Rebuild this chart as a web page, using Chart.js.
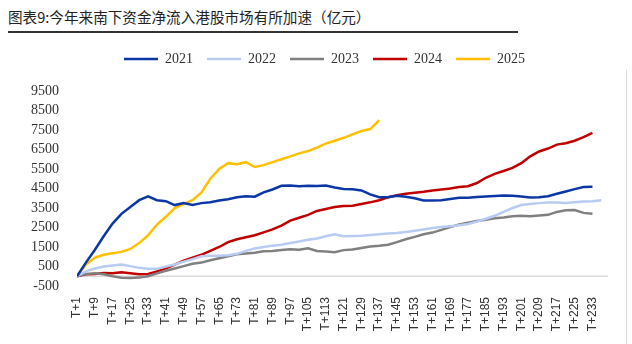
<!DOCTYPE html>
<html>
<head>
<meta charset="utf-8">
<script src="https://cdn.jsdelivr.net/npm/chart.js@4"></script>
<style>
  html, body { margin: 0; padding: 0; background: #fff; }
  #wrap { position: relative; width: 632px; height: 344px; overflow: hidden; }
  #title { position: absolute; left: 8px; top: 6px; font: 14.6px "Noto Sans CJK SC", sans-serif; color: #222; white-space: nowrap; }
  #rule { position: absolute; left: 8px; top: 31px; width: 510px; height: 2px; background: #333; }
  #edge { position: absolute; left: 626px; top: 70px; width: 1px; height: 274px; background: #d9d9d9; }
  canvas { position: absolute; left: 0; top: 0; }
</style>
</head>
<body>
<div id="wrap">
  <div id="title">图表9:今年来南下资金净流入港股市场有所加速（亿元）</div>
  <div id="rule"></div>
  <div id="edge"></div>
  <canvas id="chart" width="632" height="344"></canvas>
</div>
<script>
// trading day index (sampled every 4 days)
const days = [1,5,9,13,17,21,25,29,33,37,41,45,49,53,57,61,65,69,73,77,81,85,89,93,97,101,105,109,113,117,
  121,125,129,133,137,141,145,149,153,157,161,165,169,173,177,181,185,189,193,197,201,205,209,213,217,221,225,229,233,237];

const xTicks = [1,9,17,25,33,41,49,57,65,73,81,89,97,105,113,121,129,137,145,153,161,169,177,185,193,201,209,217,225,233];
const yTicks = [-500,500,1500,2500,3500,4500,5500,6500,7500,8500,9500];

const years = ['2021', '2022', '2023', '2024', '2025'];
const colors = ['#0b37a6', '#b8cbf2', '#808080', '#c00000', '#ffc000'];

const flow2021 = [0,700,1350,2050,2700,3200,3550,3900,4100,3900,3850,3650,3750,3650,3750,3800,3880,3950,4050,4100,
  4080,4300,4450,4640,4650,4620,4640,4630,4650,4550,4480,4460,4400,4200,4050,4050,4130,4080,4000,3890,
  3880,3900,3960,4020,4020,4060,4090,4120,4140,4130,4090,4040,4050,4100,4230,4350,4470,4580,4590];
const flow2022 = [0,250,400,500,550,600,520,430,380,380,500,600,750,880,1020,1050,1050,1080,1150,1300,
  1420,1500,1570,1620,1700,1780,1870,1940,2050,2150,2050,2060,2080,2120,2160,2190,2220,2270,2330,2400,
  2470,2520,2570,2620,2680,2800,2950,3100,3300,3500,3650,3700,3750,3780,3780,3760,3800,3830,3850,3900];
const flow2023 = [0,120,150,100,0,-80,-90,-70,0,150,280,400,520,640,700,820,920,1030,1130,1170,
  1200,1280,1300,1350,1380,1360,1430,1300,1270,1230,1340,1370,1450,1520,1560,1620,1750,1900,2020,2150,
  2240,2380,2520,2650,2750,2830,2900,2970,3010,3080,3100,3080,3110,3150,3300,3380,3400,3250,3200];
const flow2024 = [0,100,120,170,150,200,150,100,120,250,400,600,800,950,1100,1300,1500,1750,1900,2000,
  2100,2250,2400,2600,2850,3000,3150,3350,3450,3550,3600,3620,3700,3790,3900,4050,4150,4230,4280,4330,
  4400,4450,4500,4580,4620,4780,5050,5250,5400,5560,5800,6150,6400,6550,6750,6820,6950,7130,7350];
const flow2025 = [0,600,950,1100,1180,1250,1400,1700,2100,2650,3050,3500,3700,3900,4300,5000,5500,5800,5750,5850,
  5600,5700,5850,6000,6150,6300,6420,6600,6800,6950,7100,7280,7450,7550,8000];

const allFlows = [flow2021, flow2022, flow2023, flow2024, flow2025];

// grey line at the zero level
const zeroLine = {
  id: 'zeroLine',
  beforeDatasetsDraw(chart) {
    const { ctx, chartArea, scales } = chart;
    const y = scales.y.getPixelForValue(0);
    ctx.save();
    ctx.strokeStyle = '#d9d9d9';
    ctx.lineWidth = 1.5;
    ctx.beginPath();
    ctx.moveTo(chartArea.left, y);
    ctx.lineTo(chartArea.right, y);
    ctx.stroke();
    ctx.restore();
  }
};

// extra room under the legend, and nudge it right a little
const legendGap = {
  id: 'legendGap',
  beforeInit(chart) {
    const fit = chart.legend.fit;
    chart.legend.fit = function () {
      fit.bind(chart.legend)();
      this.height += 15;
    };
  },
  afterLayout(chart) {
    chart.legend.left += 7;
    chart.legend.right += 7;
  }
};

const ctx = document.getElementById('chart').getContext('2d');
new Chart(ctx, {
  type: 'line',
  data: {
    datasets: years.map((yr, i) => ({
      label: yr,
      data: allFlows[i].map((v, j) => ({ x: days[j], y: v })),
      borderColor: colors[i],
      backgroundColor: colors[i],
      borderWidth: 2.5,
      pointRadius: 0,
      tension: 0
    }))
  },
  options: {
    responsive: false,
    animation: false,
    layout: { padding: { top: 38, left: 27, right: 24, bottom: 0 } },
    plugins: {
      legend: {
        position: 'top',
        labels: {
          boxWidth: 34,
          boxHeight: 2.5,
          padding: 14,
          color: '#333',
          font: { family: 'Liberation Serif', size: 14 },
          generateLabels: chart => Chart.defaults.plugins.legend.labels.generateLabels(chart).map(l => ({ ...l, lineWidth: 0 }))
        }
      },
      tooltip: { enabled: false }
    },
    scales: {
      x: {
        type: 'linear',
        min: 1,
        max: 240,
        grid: { display: false, drawTicks: false },
        border: { display: false },
        afterBuildTicks: axis => { axis.ticks = xTicks.map(v => ({ value: v })); },
        afterFit: axis => { axis.height = 58; },
        ticks: {
          autoSkip: false,
          minRotation: 90,
          maxRotation: 90,
          padding: 11,
          color: '#333',
          font: { family: 'Liberation Sans', size: 12 },
          callback: v => 'T+' + v
        }
      },
      y: {
        min: -500,
        max: 9500,
        grid: { display: false, drawTicks: false },
        border: { display: false },
        afterBuildTicks: axis => { axis.ticks = yTicks.map(v => ({ value: v })); },
        afterFit: axis => { axis.width = 50; },
        ticks: {
          autoSkip: false,
          padding: 18,
          color: '#333',
          font: { family: 'Liberation Serif', size: 14 },
          callback: v => String(v)
        }
      }
    }
  },
  plugins: [zeroLine, legendGap]
});
</script>
</body>
</html>
